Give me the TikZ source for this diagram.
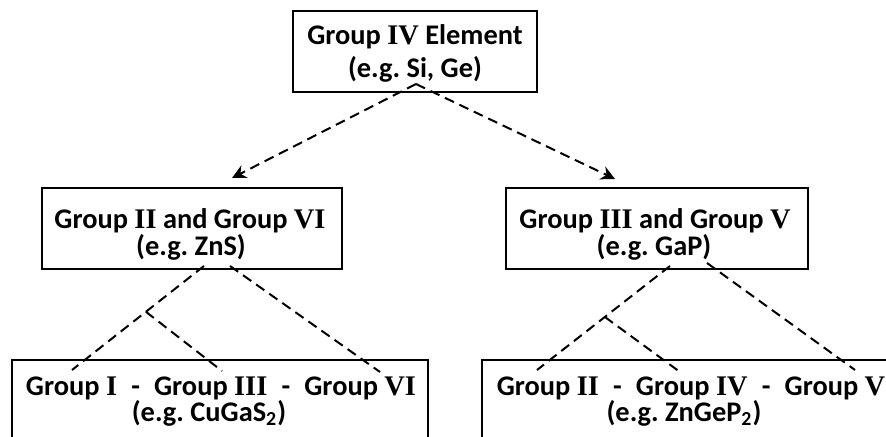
\documentclass[tikz,border=0pt]{standalone}
\usepackage{fontspec}
\setmainfont{Carlito}
\newfontfamily\rnfont{Liberation Serif}
\usetikzlibrary{arrows.meta,calc,fit}
\newcommand{\RN}[1]{{\rnfont\bfseries #1}}
\newcommand{\sep}{\hspace{0.5em}-\hspace{0.5em}}
\frenchspacing
\begin{document}
\begin{tikzpicture}[x=0.5pt,y=-0.5pt,
  box/.style={draw, line width=1pt, inner sep=0pt},
  txt/.style={font=\fontsize{14.2}{17}\selectfont\bfseries, anchor=base, inner sep=0pt},
  dl/.style={line width=1pt, dash pattern=on 5pt off 3pt},
  arr/.style={dl, -{Stealth[length=7pt,width=7pt]}}]
\clip (0,0) rectangle (886,437);
\fill[white] (0,0) rectangle (886,437);
% boxes
\node[box, fit={(293,11) (537,92)}] (top) {};
\node[box, fit={(42,188) (342,269)}] (ml) {};
\node[box, fit={(506,188) (808,269)}] (mr) {};
\node[box, fit={(12,360) (428,470)}] (bl) {};
\node[box, fit={(482,360) (910,470)}] (br) {};
% texts
\node[txt] (top1) at (415,45) {Group \RN{IV} Element};
\node[txt] (top2) at (415,78) {(e.g. Si, Ge)};
\node[txt] (ml1) at (190,229) {Group \RN{II} and Group \RN{VI}};
\node[txt] (ml2) at (191,256) {(e.g. ZnS)};
\node[txt] (mr1) at (655,229) {Group \RN{III} and Group \RN{V}};
\node[txt] (mr2) at (654,256) {(e.g. GaP)};
\node[txt] (bl1) at (221,395) {Group \RN{I}\sep Group \RN{III}\sep Group \RN{VI}};
\node[txt] (bl2) at (209,421) {(e.g. CuGaS\textsubscript{2})};
\node[txt] (br1) at (691,395) {Group \RN{II}\sep Group \RN{IV}\sep Group \RN{V}};
\node[txt] (br2) at (684,421) {(e.g. ZnGeP\textsubscript{2})};
% connector points
\coordinate (ap) at (416,84);
\coordinate (tl) at (232,178);
\coordinate (tr) at (615,179);
\coordinate (la0) at (204,266);
\coordinate (la1) at (72,370);
\coordinate (lb0) at (230,266);
\coordinate (lb1) at (380,372);
\coordinate (lc1) at (222,371);
\coordinate (ra0) at (670,266);
\coordinate (ra1) at (537,370);
\coordinate (rb0) at (707,263);
\coordinate (rb1) at (855,370);
\coordinate (rc1) at (680,372);
\coordinate (lj) at ($(la0)!0.44!(la1)$);
\coordinate (rj) at ($(ra0)!0.49!(ra1)$);
% connectors
\draw[arr] (ap) -- (tl);
\draw[arr] (ap) -- (tr);
\draw[dl] (la0) -- (la1);
\draw[dl] (lb0) -- (lb1);
\draw[dl] (lj) -- (lc1);
\draw[dl] (ra0) -- (ra1);
\draw[dl] (rb0) -- (rb1);
\draw[dl] (rj) -- (rc1);
\end{tikzpicture}
\end{document}
